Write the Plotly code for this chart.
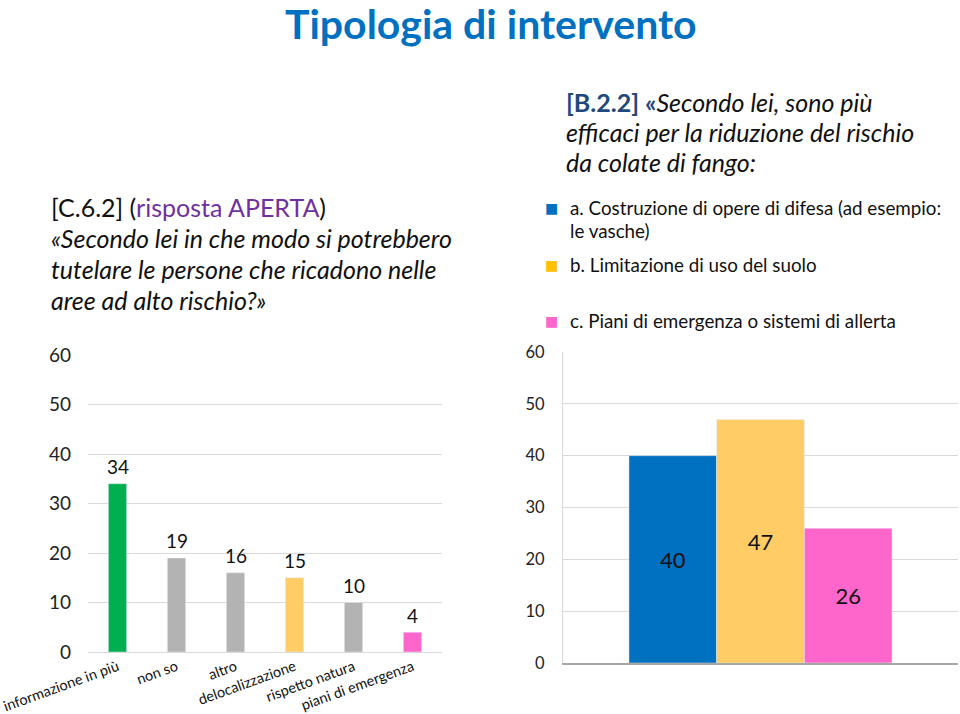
import plotly.graph_objects as go

# ---------------- data ----------------
left_categories = ["informazione in più", "non so", "altro", "delocalizzazione",
                   "rispetto natura", "piani di emergenza"]
left_values = [34, 19, 16, 15, 10, 4]
left_colors = ["#00b050", "#b3b3b3", "#b3b3b3", "#ffcc66", "#b3b3b3", "#ff66cc"]

right_series = ["a. Costruzione di opere di difesa (ad esempio: le vasche)",
                "b. Limitazione di uso del suolo",
                "c. Piani di emergenza o sistemi di allerta"]
right_values = [40, 47, 26]
right_colors = ["#0070c0", "#ffcc66", "#ff66cc"]
legend_colors = ["#0070c0", "#ffc000", "#ff66cc"]

y_ticks = [0, 10, 20, 30, 40, 50, 60]

W, H = 960, 714
FONT = "Lato"


def px(x):
    return x / W


def py(y):
    return 1 - y / H


fig = go.Figure()

# left chart
fig.add_trace(go.Bar(
    x=left_categories, y=left_values, marker_color=left_colors,
    width=0.31, xaxis="x", yaxis="y", showlegend=False,
))

# right chart
for name, v, c in zip(right_series, right_values, right_colors):
    fig.add_trace(go.Bar(
        x=[""], y=[v], name=name, marker_color=c, xaxis="x2", yaxis="y2",
        text=[str(v)], textposition="inside", insidetextanchor="middle",
        textangle=0, textfont=dict(size=22, color="#111", family=FONT),
        showlegend=False,
    ))

annotations = []
# left value labels above bars
for cat, v in zip(left_categories, left_values):
    annotations.append(dict(
        x=cat, y=v, xref="x", yref="y", text=str(v), showarrow=False,
        yanchor="middle", yshift=17, font=dict(size=19, color="#111", family=FONT),
    ))

# title
annotations.append(dict(
    x=px(491), y=py(24), xref="paper", yref="paper", text="<b>Tipologia di intervento</b>",
    showarrow=False, xanchor="center", yanchor="middle",
    font=dict(size=41, color="#0070c0", family=FONT),
))

# left question
left_lines = [
    "[C.6.2] (<span style='color:#7030a0'>risposta APERTA</span>)",
    "<i>«Secondo lei in che modo si potrebbero</i>",
    "<i>tutelare le persone che ricadono nelle</i>",
    "<i>aree ad alto rischio?»</i>",
]
for i, t in enumerate(left_lines):
    annotations.append(dict(
        x=px(49), y=py(207 + 31 * i), xref="paper", yref="paper", text=t,
        showarrow=False, xanchor="left", yanchor="middle",
        font=dict(size=25, color="#111", family=FONT),
    ))

# right question
right_lines = [
    "<b><span style='color:#1f497d'>[B.2.2] «</span></b><i>Secondo lei, sono più</i>",
    "<i>efficaci per la riduzione del rischio</i>",
    "<i>da colate di fango:</i>",
]
for i, t in enumerate(right_lines):
    annotations.append(dict(
        x=px(564), y=py(102 + 30 * i), xref="paper", yref="paper", text=t,
        showarrow=False, xanchor="left", yanchor="middle",
        font=dict(size=25, color="#111", family=FONT),
    ))

# legend
legend_rows = [
    ("a. Costruzione di opere di difesa (ad esempio:", 207, 0),
    ("le vasche)", 231, None),
    ("b. Limitazione di uso del suolo", 264, 1),
    ("c. Piani di emergenza o sistemi di allerta", 320, 2),
]
for text, y, ci in legend_rows:
    annotations.append(dict(
        x=px(568), y=py(y), xref="paper", yref="paper", text=text,
        showarrow=False, xanchor="left", yanchor="middle",
        font=dict(size=18.8, color="#111", family=FONT),
    ))
    if ci is not None:
        annotations.append(dict(
            x=px(551), y=py(y + 1), xref="paper", yref="paper", text="■",
            showarrow=False, xanchor="center", yanchor="middle",
            font=dict(size=14, color=legend_colors[ci], family="DejaVu Sans"),
        ))

grid = "#d9d9d9"

fig.update_layout(
    width=W, height=H,
    margin=dict(l=0, r=0, t=0, b=0, autoexpand=False),
    paper_bgcolor="white", plot_bgcolor="white",
    barmode="group", bargap=0.334, bargroupgap=0,
    annotations=annotations,
    xaxis=dict(domain=[px(88), px(442)], tickangle=-20, showgrid=False, automargin=False,
               showline=True, linecolor=grid, linewidth=1, ticks="",
               tickfont=dict(size=14.5, color="#111", family=FONT), fixedrange=True),
    yaxis=dict(domain=[py(652), py(355)], range=[0, 60], tickvals=y_ticks, automargin=False,
               showgrid=True, gridcolor=grid, gridwidth=1, zeroline=False,
               showline=False, ticks="", ticklabelstandoff=16,
               tickfont=dict(size=19, color="#222", family=FONT)),
    xaxis2=dict(domain=[px(563), px(958)], anchor="y2", showticklabels=False, automargin=False,
                showgrid=False, showline=True, linecolor="#a6a6a6", linewidth=1.5, ticks=""),
    yaxis2=dict(domain=[py(663), py(352)], anchor="x2", range=[0, 60], tickvals=y_ticks,
                automargin=False,
                showgrid=True, gridcolor=grid, gridwidth=1, zeroline=False,
                showline=True, linecolor=grid, linewidth=1, ticks="",
                ticklabelstandoff=14, tickfont=dict(size=16.5, color="#222", family=FONT)),
)

fig.write_html("out.html", config={"displayModeBar": False},
               post_script="document.body.style.margin='0px';")
